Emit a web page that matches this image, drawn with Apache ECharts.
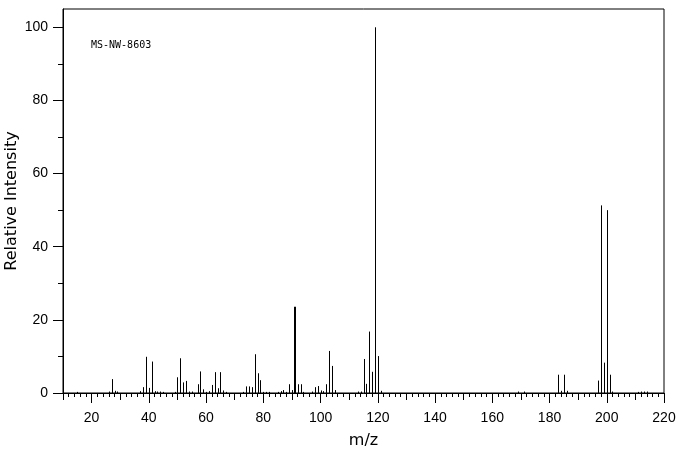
<!DOCTYPE html>
<html>
<head>
<meta charset="utf-8">
<script src="https://cdn.jsdelivr.net/npm/echarts@6/dist/echarts.min.js"></script>
<style>
  html, body { margin: 0; padding: 0; background: #fff; }
  #chart { width: 676px; height: 455px; }
</style>
</head>
<body>
<div id="chart"></div>
<script>
// m/z 和相对强度
var mz = [15, 26, 27, 28, 29, 37, 38, 39, 40, 41, 42, 43, 44, 45, 49, 50, 51, 52, 53, 54, 55,
    57, 58, 59, 60, 61, 62, 63, 64, 65, 66, 67, 73, 74, 75, 76, 77, 78, 79, 80, 81, 82,
    85, 86, 87, 88, 89, 90, 91, 92, 93, 94, 97, 98, 99, 100, 101, 102, 103, 104, 105,
    113, 114, 115, 116, 117, 118, 119, 120, 121, 169, 171, 183, 184, 185, 186,
    197, 198, 199, 200, 201, 202, 211, 212, 213, 214];
var intensity = [0.3, 0.4, 3.8, 0.6, 0.4, 0.5, 1.6, 9.9, 1.4, 8.6, 0.5, 0.4, 0.4, 0.3, 0.3, 4.3, 9.5, 2.9, 3.3, 0.4, 0.4,
    2.4, 5.9, 1.0, 0.3, 0.5, 2.2, 5.7, 1.3, 5.7, 0.7, 0.3, 0.3, 1.8, 1.8, 1.6, 10.6, 5.4, 3.5, 0.3, 0.3, 0.3,
    0.3, 0.5, 0.8, 0.3, 2.4, 0.8, 23.6, 2.4, 2.4, 0.3, 0.4, 1.6, 1.9, 0.7, 0.5, 2.4, 11.5, 7.4, 0.8,
    0.4, 0.4, 9.3, 2.5, 16.8, 5.8, 100, 10.1, 0.6, 0.4, 0.4, 5.0, 0.6, 5.0, 0.6,
    3.4, 51.3, 8.3, 50.0, 5.0, 0.4, 0.3, 0.4, 0.4, 0.4];
var thickPeaks = [91];   // 图里这条线是加粗的

// 刻度
var xLabels = [20, 40, 60, 80, 100, 120, 140, 160, 180, 200, 220];
var yLabels = [0, 20, 40, 60, 80, 100];
var yMinor = [10, 30, 50, 70, 90];

var peaks = mz.map(function (m, i) { return [m, intensity[i]]; });

var chart = echarts.init(document.getElementById('chart'));
var labelFont = { color: '#000', fontFamily: 'Liberation Sans', fontSize: 14 };

var option = {
    animation: false,
    title: {
        text: 'MS-NW-8603',
        left: 86, top: 35,
        textStyle: { fontFamily: 'DejaVu Sans Mono', fontSize: 10, fontWeight: 'normal', color: '#000' }
    },
    grid: {
        left: 63, right: 12, top: 9, bottom: 62,
        outerBoundsMode: 'none',
        show: true, borderColor: '#000', borderWidth: 1
    },
    xAxis: [{
        type: 'value', min: 10, max: 220, interval: 10,
        name: 'm/z', nameLocation: 'middle', nameGap: 40, nameMoveOverlap: false,
        nameTextStyle: { color: '#000', fontFamily: 'DejaVu Sans', fontSize: 16 },
        axisLine: { lineStyle: { color: '#000', width: 1 } },
        axisTick: { show: true, length: 7, lineStyle: { color: '#000' } },
        minorTick: { show: true, splitNumber: 5, length: 4, lineStyle: { color: '#000' } },
        axisLabel: Object.assign({ margin: 18, customValues: xLabels }, labelFont),
        splitLine: { show: false }
    }, {
        type: 'value', min: 10, max: 220, position: 'bottom',
        axisLine: { show: false },
        axisTick: { show: true, length: 10, customValues: xLabels, lineStyle: { color: '#000' } },
        axisLabel: { show: false },
        splitLine: { show: false }
    }],
    yAxis: [{
        type: 'value', min: 0, max: 105,
        name: 'Relative Intensity', nameLocation: 'middle', nameGap: 43, nameMoveOverlap: false,
        nameTextStyle: { color: '#000', fontFamily: 'DejaVu Sans', fontSize: 16 },
        axisLine: { show: true, lineStyle: { color: '#000', width: 1 } },
        axisTick: { show: true, length: 10, customValues: yLabels, lineStyle: { color: '#000' } },
        axisLabel: Object.assign({ margin: 15, customValues: yLabels }, labelFont),
        splitLine: { show: false }
    }, {
        type: 'value', min: 0, max: 105, position: 'left',
        axisLine: { show: false },
        axisTick: { show: true, length: 5, customValues: yMinor, lineStyle: { color: '#000' } },
        axisLabel: { show: false },
        splitLine: { show: false }
    }],
    series: [{
        type: 'custom',
        xAxisIndex: 0, yAxisIndex: 0,
        data: peaks,
        clip: true,
        renderItem: function (params, api) {
            var m = api.value(0);
            var top = api.coord([m, api.value(1)]);
            var base = api.coord([m, 0]);
            var w = thickPeaks.indexOf(m) >= 0 ? 2 : 1;
            var x = Math.round(top[0]) + (w === 1 ? 0.5 : 0);
            return {
                type: 'line',
                shape: { x1: x, y1: base[1], x2: x, y2: top[1] },
                style: { stroke: '#000', lineWidth: w }
            };
        }
    }]
};
chart.setOption(option);
</script>
</body>
</html>
